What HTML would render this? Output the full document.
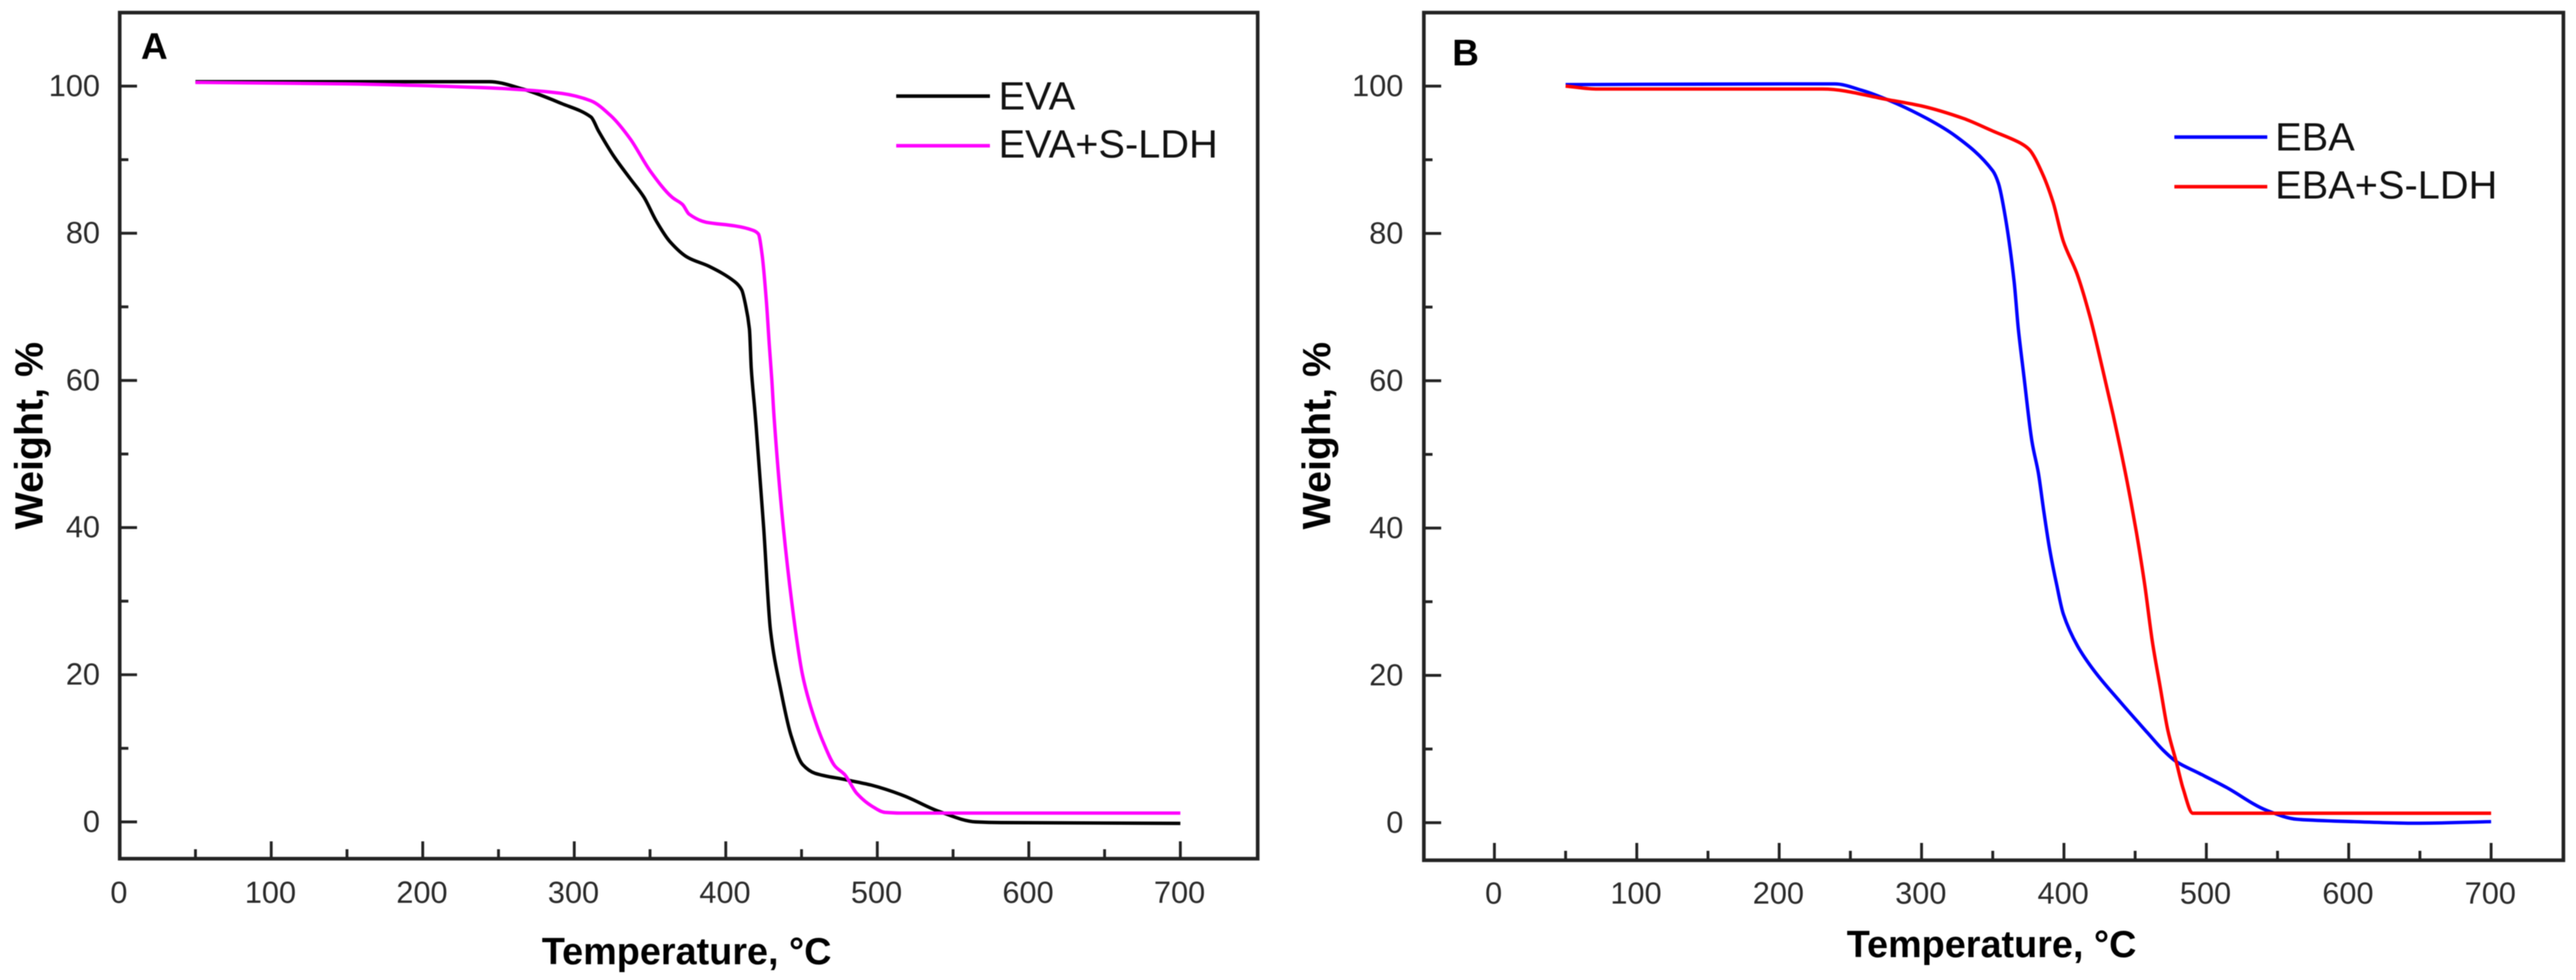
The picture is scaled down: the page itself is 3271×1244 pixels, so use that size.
<!DOCTYPE html>
<html lang="en">
<head>
<meta charset="utf-8">
<title>TGA curves of EVA and EBA composites</title>
<style>
  html, body { margin: 0; padding: 0; background: #fff; }
  svg { display: block; filter: blur(0.45px); }
  text { font-family: "Liberation Sans", Arial, sans-serif; }
  .tick-label { font-size: 39px; fill: #2a2a2a; }
  .axis-title { font-size: 48px; font-weight: bold; fill: #000; }
  .y-title { font-size: 50px; font-weight: bold; fill: #000; }
  .panel-letter { font-size: 47px; font-weight: bold; fill: #000; }
  .legend-text { font-size: 50.5px; fill: #111; }
</style>
</head>
<body>
<svg id="chart" xmlns="http://www.w3.org/2000/svg" width="3271" height="1244" viewBox="0 0 3271 1244">
  <rect x="0" y="0" width="3271" height="1244" fill="#fff"/>

  <g id="panel-a">
    <g id="a-series"></g>
    <rect x="152" y="16" width="1445" height="1074" fill="none" stroke="#222" stroke-width="4.6"/>
    <g id="a-ticks"></g>
    <text class="panel-letter" x="179" y="75">A</text>
    <text class="axis-title" x="688" y="1224">Temperature, °C</text>
    <text class="y-title" transform="translate(54,672) rotate(-90)" x="0" y="0">Weight, %</text>
    <line x1="1138" y1="122" x2="1257" y2="122" stroke="#000" stroke-width="4.5"/>
    <text class="legend-text" x="1268" y="139">EVA</text>
    <line x1="1138" y1="185" x2="1257" y2="185" stroke="#ff00ff" stroke-width="4.5"/>
    <text class="legend-text" x="1268" y="200">EVA+S-LDH</text>
  </g>

  <g id="panel-b">
    <g id="b-series"></g>
    <rect x="1808" y="16" width="1447" height="1076" fill="none" stroke="#222" stroke-width="4.6"/>
    <g id="b-ticks"></g>
    <text class="panel-letter" x="1844" y="83">B</text>
    <text class="axis-title" x="2345" y="1215">Temperature, °C</text>
    <text class="y-title" transform="translate(1689,672) rotate(-90)" x="0" y="0">Weight, %</text>
    <line x1="2761" y1="174" x2="2879" y2="174" stroke="#0000ff" stroke-width="4.5"/>
    <text class="legend-text" x="2889" y="191">EBA</text>
    <line x1="2761" y1="237" x2="2879" y2="237" stroke="#ff0000" stroke-width="4.5"/>
    <text class="legend-text" x="2889" y="252">EBA+S-LDH</text>
  </g>
</svg>

<script>
// ---- Data ----
const yMajorTicks = [0, 20, 40, 60, 80, 100];
const yMinorTicks = [10, 30, 50, 70, 90];
const xMajorTicksA = [0, 100, 200, 300, 400, 500, 600, 700];
const xMinorTicksA = [50, 150, 250, 350, 450, 550, 650];
const xMajorTicksB = [0, 100, 200, 300, 400, 500, 600, 700];
const xMinorTicksB = [50, 150, 250, 350, 450, 550, 650];

const evaTemp = [50,150,244,266,292,311,316,326,337,346,354,363,375,389,406,410.5,413,415.6,416.8,419,420.4,425,429.5,436,443,450.7,459,480,496,517,541,565,582,700];
const evaWeight = [100.6,100.6,100.6,99.6,97.6,95.8,93.9,90.5,87.4,84.9,81.7,78.9,76.7,75.5,73.4,72.3,70.3,67,61.7,56.3,52.8,40,26,18.2,11.8,7.8,6.6,5.7,5,3.6,1.4,0,-0.1,-0.2];

const evaLdhTemp = [50,150,239,266,292,311,324,337,350,364.5,371.5,375.8,387,406,418,421.5,424,426.8,428.7,430.4,432,438,446,450.6,456,464,472,478.6,486.4,496,505,515,700];
const evaLdhWeight = [100.5,100.3,99.8,99.5,99,98,96,92.8,88.5,84.9,83.9,82.6,81.5,81,80.4,79.9,77,70.7,64.9,60,54.6,40,26,20,15.7,11,7.6,6.4,3.9,2.2,1.3,1.2,1.2];

const ebaTemp = [50,205,239,258.6,278,303.7,324,350,354,359,365,368,372,377.5,382,385.7,390,395,399.6,409.5,421.7,440,458.7,469.9,478.8,495,514,542,563.8,603.6,646.8,700];
const ebaWeight = [100.2,100.3,100.3,99.4,98,95.6,93.2,88.5,86.8,82,73.5,67,60.4,51.8,47.5,42.5,37.1,32.2,28.3,24,20.5,16.3,12.2,9.8,8.3,6.7,4.8,1.7,0.46,0.14,-0.07,0.14];

const ebaLdhTemp = [50,72.5,230.5,278,300,329.5,350,370,375.6,384.7,392.4,399.6,409,418,427,434.6,442,447.7,451,456.8,462,467.7,473,478.8,483.6,490.5,700];
const ebaLdhWeight = [100,99.6,99.6,98.1,97.3,95.6,93.9,92.2,91.4,88.2,84.2,78.9,74.6,68.9,61.7,55.3,48.6,42.9,39.3,32.2,24.7,18.3,12.5,8.3,4.7,1.28,1.28];

// ---- Axis functions ----
const xScaleA = t => 152 + 1.924 * t;
const yScaleA = w => 1043.3 - 9.34 * w;
const xScaleB = t => 1897.6 + 1.808 * t;
const yScaleB = w => 1044.3 - 9.35 * w;

const NS = 'http://www.w3.org/2000/svg';

function addTick(parent, x1, y1, x2, y2, name) {
  const el = document.createElementNS(NS, 'line');
  el.setAttribute('x1', x1);
  el.setAttribute('y1', y1);
  el.setAttribute('x2', x2);
  el.setAttribute('y2', y2);
  el.setAttribute('stroke', '#222');
  el.setAttribute('stroke-width', '3.6');
  
  
  parent.appendChild(el);
}

function addLabel(parent, x, y, anchor, value, name) {
  const el = document.createElementNS(NS, 'text');
  el.setAttribute('class', 'tick-label');
  el.setAttribute('x', x);
  el.setAttribute('y', y);
  el.setAttribute('text-anchor', anchor);
  
  
  el.textContent = String(value);
  parent.appendChild(el);
}

function drawAxes(groupId, opts) {
  const g = document.getElementById(groupId);
  yMajorTicks.forEach(v => {
    const y = opts.yScale(v);
    addTick(g, opts.left, y, opts.left + 22, y, 'y-major-tick');
    addLabel(g, opts.yLabelRight, y + 12.5, 'end', v, 'y-tick-label');
  });
  yMinorTicks.forEach(v => {
    const y = opts.yScale(v);
    addTick(g, opts.left, y, opts.left + 11, y, 'y-minor-tick');
  });
  opts.xMajor.forEach(v => {
    const x = opts.xScale(v);
    addTick(g, x, opts.bottom, x, opts.bottom - 22, 'x-major-tick');
    addLabel(g, x - 1, opts.xLabelBase, 'middle', v, 'x-tick-label');
  });
  opts.xMinor.forEach(v => {
    const x = opts.xScale(v);
    addTick(g, x, opts.bottom, x, opts.bottom - 12, 'x-minor-tick');
  });
}

// Monotone cubic through the data points, so the curves stay smooth without overshoot.
function smoothPath(xs, ys) {
  const n = xs.length;
  const d = [];
  for (let i = 0; i < n - 1; i++) d.push((ys[i + 1] - ys[i]) / (xs[i + 1] - xs[i]));
  const m = [d[0]];
  for (let i = 1; i < n - 1; i++) {
    m.push(d[i - 1] * d[i] <= 0 ? 0 : 2 * d[i - 1] * d[i] / (d[i - 1] + d[i]));
  }
  m.push(d[n - 2]);
  let out = 'M' + xs[0].toFixed(1) + ' ' + ys[0].toFixed(1);
  for (let i = 0; i < n - 1; i++) {
    const h = (xs[i + 1] - xs[i]) / 3;
    out += ' C' + (xs[i] + h).toFixed(1) + ' ' + (ys[i] + m[i] * h).toFixed(1) +
           ' ' + (xs[i + 1] - h).toFixed(1) + ' ' + (ys[i + 1] - m[i + 1] * h).toFixed(1) +
           ' ' + xs[i + 1].toFixed(1) + ' ' + ys[i + 1].toFixed(1);
  }
  return out;
}

function drawSeries(groupId, temps, weights, xScale, yScale, color, name) {
  const g = document.getElementById(groupId);
  const el = document.createElementNS(NS, 'path');
  el.setAttribute('d', smoothPath(temps.map(xScale), weights.map(yScale)));
  el.setAttribute('fill', 'none');
  el.setAttribute('stroke', color);
  el.setAttribute('stroke-width', '4.3');
  el.setAttribute('stroke-linejoin', 'round');
  
  
  g.appendChild(el);
}

drawAxes('a-ticks', { left: 152, bottom: 1090, yLabelRight: 127, xLabelBase: 1146, xScale: xScaleA, yScale: yScaleA, xMajor: xMajorTicksA, xMinor: xMinorTicksA });
drawAxes('b-ticks', { left: 1808, bottom: 1092, yLabelRight: 1782, xLabelBase: 1147, xScale: xScaleB, yScale: yScaleB, xMajor: xMajorTicksB, xMinor: xMinorTicksB });

drawSeries('a-series', evaTemp, evaWeight, xScaleA, yScaleA, '#000000', 'series-eva');
drawSeries('a-series', evaLdhTemp, evaLdhWeight, xScaleA, yScaleA, '#ff00ff', 'series-eva-s-ldh');
drawSeries('b-series', ebaTemp, ebaWeight, xScaleB, yScaleB, '#0000ff', 'series-eba');
drawSeries('b-series', ebaLdhTemp, ebaLdhWeight, xScaleB, yScaleB, '#ff0000', 'series-eba-s-ldh');
</script>
</body>
</html>
